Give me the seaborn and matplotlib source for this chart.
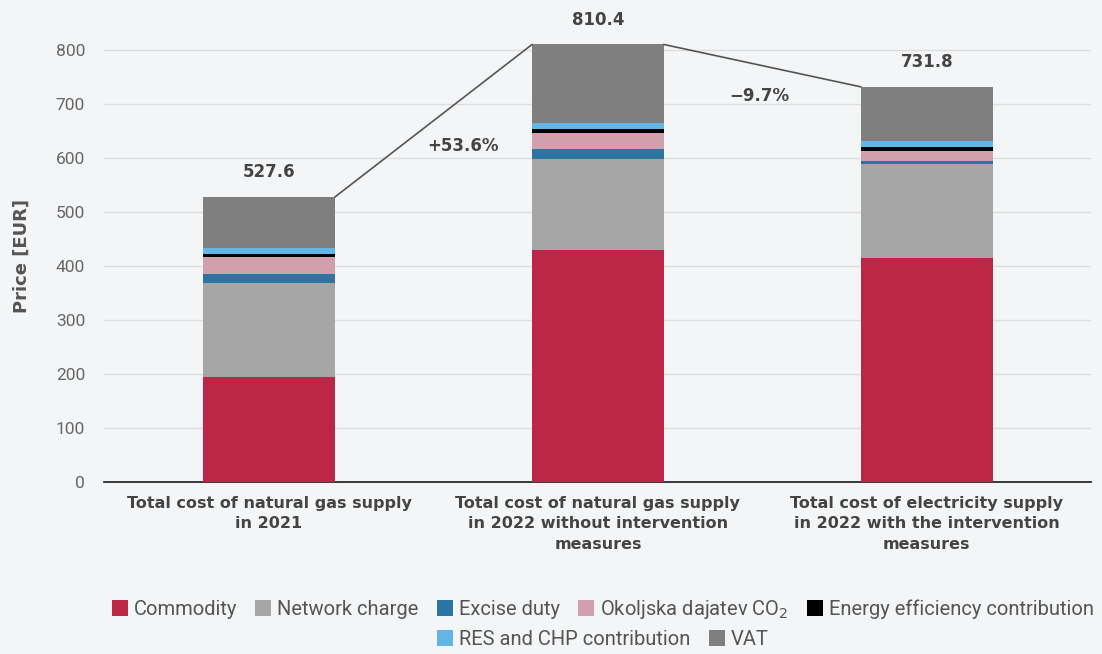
import pandas as pd
import numpy as np
import seaborn as sns
import matplotlib.pyplot as plt
from matplotlib.patches import Patch

categories = ['Total cost of natural gas supply\nin 2021',
              'Total cost of natural gas supply\nin 2022 without intervention\nmeasures',
              'Total cost of electricity supply\nin 2022 with the intervention\nmeasures']
components = ['Commodity', 'Network charge', 'Excise duty', 'Okoljska dajatev CO$_2$',
              'Energy efficiency contribution', 'RES and CHP contribution', 'VAT']
colors = ['#bc2647', '#a6a6a6', '#2e74a0', '#d29fae', '#000000', '#63b5e6', '#7f7f7f']

commodity = [195, 430, 415]
network = [173, 169, 174]
excise = [17, 17, 5.5]
co2 = [31, 31, 18]
efficiency = [7, 6.5, 7.5]
res_chp = [10, 10.5, 11]
vat = [94.6, 146.4, 100.8]
totals = [527.6, 810.4, 731.8]
changes = ['+53.6%', '\u22129.7%']

bg = '#f4f5f6'
sns.set_theme(style='white')
plt.rcParams['font.family'] = ['Liberation Sans Narrow', 'Roboto', 'DejaVu Sans']

df = pd.DataFrame({'cat': categories, 'Commodity': commodity, 'Network charge': network,
                   'Excise duty': excise, 'Okoljska dajatev CO$_2$': co2,
                   'Energy efficiency contribution': efficiency,
                   'RES and CHP contribution': res_chp, 'VAT': vat})
cum = df[components].cumsum(axis=1)

fig = plt.figure(figsize=(11.02, 6.54), dpi=100, facecolor=bg)
ax = fig.add_axes([0.0948, 0.263, 0.8955, 0.691], facecolor=bg)

# draw cumulative stacks from the top down so each layer overlays the next
for comp, col in reversed(list(zip(components, colors))):
    sns.barplot(x=df['cat'], y=cum[comp], color=col, width=0.4, ax=ax,
                saturation=1, edgecolor='none', zorder=3)

ax.set_xlim(-0.5, 2.5)
ax.set_ylim(0, 837)
ax.set_yticks(range(0, 801, 100))
ax.yaxis.grid(True, color='#dddddd', lw=1, zorder=0)
ax.tick_params(axis='y', length=0, pad=14, labelsize=12.5, labelcolor='#666666')
ax.set_ylabel('Price [EUR]', fontsize=13, fontweight='bold', color='#555555', labelpad=18,
              family=['DejaVu Sans'])
ax.set_xlabel('')
ax.set_xticks(range(3))
ax.set_xticklabels(categories, fontsize=11.5, fontweight='bold', color='#444444',
                   family=['DejaVu Sans'], linespacing=1.45)
ax.tick_params(axis='x', length=0, pad=10)
ax.set_xticks([-0.5, 0.5, 1.5, 2.5], minor=True)
ax.tick_params(axis='x', which='minor', length=8, color='#222222', width=1)
for s in ['top', 'right', 'left']:
    ax.spines[s].set_visible(False)
ax.spines['bottom'].set_color('#222222')

# totals above the bars
for i, t in enumerate(totals):
    ax.text(i, t + 46, f'{t:.1f}', ha='center', va='center', fontsize=12, fontweight='bold',
            color='#444444', family=['DejaVu Sans'], clip_on=False)

# connector lines between bar tops
for i in range(2):
    ax.plot([i + 0.2, i + 0.8], [totals[i], totals[i + 1]], color='#555555', lw=1.2,
            zorder=4, clip_on=False)
ax.text(0.59, 622, changes[0], ha='center', va='center', fontsize=12, fontweight='bold',
        color='#444444', family=['DejaVu Sans'])
ax.text(1.49, 715, changes[1], ha='center', va='center', fontsize=12, fontweight='bold',
        color='#444444', family=['DejaVu Sans'])

handles = [Patch(facecolor=c, edgecolor='none') for c in colors]
leg_kw = dict(frameon=False, fontsize=14.5, handlelength=0.8, handleheight=0.8,
              handletextpad=0.3, columnspacing=0.9, labelcolor='#555555')
fig.legend(handles[:5], components[:5], loc='center', ncol=5,
           bbox_to_anchor=(0.547, 0.068), **leg_kw)
fig.legend(handles[5:], components[5:], loc='center', ncol=2,
           bbox_to_anchor=(0.547, 0.022), **leg_kw)

fig.savefig('out.png', dpi=100, facecolor=bg)
